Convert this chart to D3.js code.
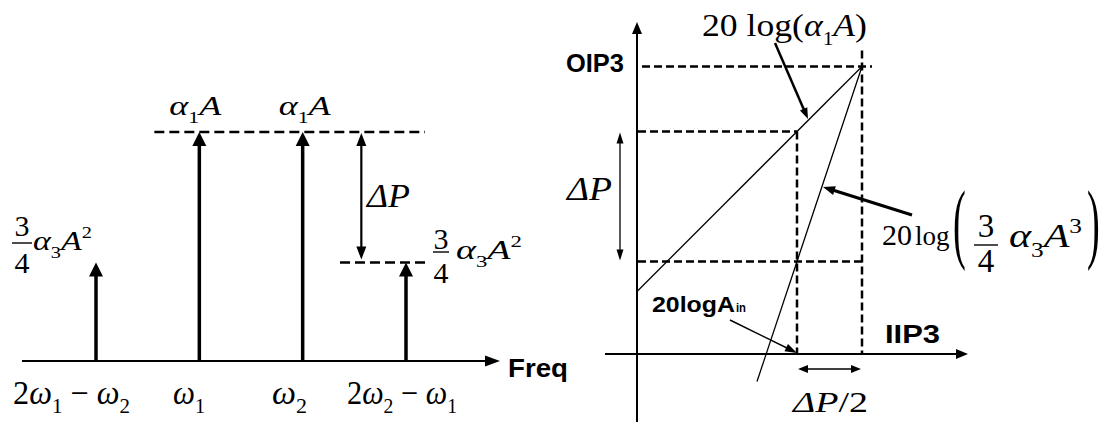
<!DOCTYPE html>
<html>
<head>
<meta charset="utf-8">
<script src="https://cdn.jsdelivr.net/npm/d3@7"></script>
<style>
  body { margin: 0; background: #fff; }
  text { white-space: pre; }
</style>
</head>
<body>
<svg id="chart" width="1108" height="424"></svg>
<script>
// ---- Two-tone spectrum (left panel) ----
const tones = ["2ω_1 − ω_2", "ω_1", "ω_2", "2ω_2 − ω_1"];
const toneLevels = [0.43, 1, 1, 0.43];          // amplitude relative to the fundamental
const toneLabelShift = [-24.5, -10.3, -13.2, -4]; // label centre offset from each tone
const toneLabelWidth = [117, 32, 35, 110];

// ---- Intercept-point plot (right panel), levels in dB ----
const gainDb = 12.5;
const iip3 = 45;
const oip3 = 57.5;
const ainDb = 32;                 // 20logA_in
const fundOutDb = 44.5;           // fundamental output at A_in
const im3OutDb = 18.5;            // third-order output at A_in
const fundLine = [[0, 12.5], [45, 57.5]];   // slope 1
const im3Line  = [[24, -5.5], [45, 57.5]];  // slope 3
const inAxisExtent = [-6.4, 66.2];
const outAxisExtent = [-13.6, 66.4];

const SERIF = "'Liberation Serif','Times New Roman',serif";
const SANS = "'Liberation Sans',Arial,sans-serif";

const svg = d3.select("#chart");
svg.append("rect").attr("width", 1108).attr("height", 424).attr("fill", "#fff");

// ---------- helpers ----------
function head(g, x, y, ang, hl, hw) {
  const bx = x - Math.cos(ang) * hl, by = y - Math.sin(ang) * hl;
  const px = -Math.sin(ang) * hw / 2, py = Math.cos(ang) * hw / 2;
  g.append("path")
    .attr("d", `M${x},${y}L${bx + px},${by + py}L${bx - px},${by - py}Z`)
    .attr("fill", "#000");
}
function arrow(g, x1, y1, x2, y2, o = {}) {
  const sw = o.sw ?? 2, hl = o.hl ?? 12, hw = o.hw ?? 10, both = o.both ?? false;
  const ang = Math.atan2(y2 - y1, x2 - x1);
  const cut = hl * 0.7;
  const ex = x2 - Math.cos(ang) * cut, ey = y2 - Math.sin(ang) * cut;
  const sx = both ? x1 + Math.cos(ang) * cut : x1, sy = both ? y1 + Math.sin(ang) * cut : y1;
  g.append("line").attr("x1", sx).attr("y1", sy).attr("x2", ex).attr("y2", ey)
    .attr("stroke", "#000").attr("stroke-width", sw);
  head(g, x2, y2, ang, hl, hw);
  if (both) head(g, x1, y1, ang + Math.PI, hl, hw);
}
function dashed(g, x1, y1, x2, y2, dash, sw) {
  g.append("line").attr("x1", x1).attr("y1", y1).attr("x2", x2).attr("y2", y2)
    .attr("stroke", "#000").attr("stroke-width", sw).attr("stroke-dasharray", dash);
}
// Math-style text: "_x" subscript, "^x" superscript, Greek and single capitals italic.
function math(g, x, y, str, size, o = {}) {
  const t = g.append("text").attr("x", x).attr("y", y)
    .attr("font-family", SERIF).attr("font-size", size).attr("fill", "#000");
  if (o.anchor) t.attr("text-anchor", o.anchor);
  const italic = /[αωΔAP]/;
  let shift = 0, i = 0;
  while (i < str.length) {
    let ch = str[i], script = null;
    if ((ch === "_" || ch === "^") && i + 1 < str.length) { script = ch; ch = str[i + 1]; i += 2; }
    else i += 1;
    const target = script === "_" ? size * 0.28 : script === "^" ? -size * 0.42 : 0;
    const ts = t.append("tspan").text(ch).attr("dy", target - shift);
    shift = target;
    if (script) ts.attr("font-size", size * (o.scriptScale || 0.6));
    if (italic.test(ch)) ts.attr("font-style", "italic");
  }
  if (o.len) t.attr("textLength", o.len).attr("lengthAdjust", o.adjust || "spacingAndGlyphs");
  return t;
}
function sans(g, x, y, str, size, len, anchor) {
  const t = g.append("text").attr("x", x).attr("y", y).text(str)
    .attr("font-family", SANS).attr("font-weight", "bold").attr("font-size", size).attr("fill", "#000");
  if (len) t.attr("textLength", len).attr("lengthAdjust", "spacingAndGlyphs");
  if (anchor) t.attr("text-anchor", anchor);
  return t;
}
function plain(g, x, y, str, size) {
  return g.append("text").attr("x", x).attr("y", y).text(str)
    .attr("font-family", SERIF).attr("font-size", size).attr("fill", "#000");
}
function fraction(g, cx, yNum, yBar, yDen, half, size) {
  plain(g, cx, yNum, "3", size).attr("text-anchor", "middle");
  g.append("line").attr("x1", cx - half).attr("x2", cx + half).attr("y1", yBar).attr("y2", yBar)
    .attr("stroke", "#000").attr("stroke-width", 1.4);
  plain(g, cx, yDen, "4", size).attr("text-anchor", "middle");
}
function paren(g, x, y, ch) {
  g.append("text").attr("transform", `translate(${x},${y}) scale(0.8,1.85)`)
    .attr("font-family", SERIF).attr("font-size", 48).text(ch);
}

// ---------- left panel ----------
const L = svg.append("g");
const fx = d3.scalePoint().domain(tones).range([96, 406]);
const fy = d3.scaleLinear().domain([0, 1]).range([361, 132]);

arrow(L, 22, fy(0), 500, fy(0), { sw: 2, hl: 15, hw: 11 });
sans(L, 508, 377, "Freq", 26, 60);

// reference levels
dashed(L, fx(tones[1]) - 45, fy(1), fx(tones[3]) + 19, fy(1), "10,5", 2.4);
dashed(L, fx(tones[3]) - 66, fy(toneLevels[3]), fx(tones[3]) + 19, fy(toneLevels[3]), "10,5", 2.4);

// tones
tones.forEach((c, i) => {
  arrow(L, fx(c), fy(0), fx(c), fy(toneLevels[i]), { sw: 3.5, hl: 14, hw: 14 });
});

// ΔP between fundamental and IM3 level
const dpx = (fx(tones[2]) + fx(tones[3])) / 2 + 7;
arrow(L, dpx, fy(1) + 1, dpx, fy(toneLevels[3]) - 3, { sw: 2.2, hl: 13, hw: 10, both: true });
math(L, 367, 207, "ΔP", 34, { len: 43 });

// tone labels under the axis
tones.forEach((c, i) => {
  math(L, fx(c) + toneLabelShift[i], 404, c, 33, { anchor: "middle", len: toneLabelWidth[i], scriptScale: 0.65 });
});

// amplitude labels
[1, 2].forEach(i => math(L, fx(tones[i]) - 30 + (i - 1) * 6, 115, "α_1A", 28, { len: 52 }));
fraction(L, 22, 236, 243, 273, 10, 30);
math(L, 33, 250, "α_3A^2", 28, { len: 59 });
fraction(L, 441, 249, 252, 283, 8, 30);
math(L, 456, 259, "α_3A^2", 28, { len: 66 });

// ---------- right panel ----------
const R = svg.append("g");
const px = d3.scaleLinear().domain([0, iip3]).range([637, 862]);
const py = d3.scaleLinear().domain([0, oip3]).range([354, 66.5]);

// axes
arrow(R, px(inAxisExtent[0]), py(0), px(inAxisExtent[1]), py(0), { sw: 2, hl: 12, hw: 10 });
arrow(R, px(0), py(outAxisExtent[0]), px(0), py(outAxisExtent[1]), { sw: 2, hl: 12, hw: 10 });
sans(R, 624, 72, "OIP3", 26, 58, "end");
sans(R, 885, 343, "IIP3", 26, 55);

// guide lines
dashed(R, px(0) + 5, py(oip3), px(iip3) + 10, py(oip3), "8,4", 2.5);
dashed(R, px(iip3), py(oip3) - 16, px(iip3), py(0), "8,4", 2.5);
dashed(R, px(0) + 1, py(fundOutDb), px(ainDb), py(fundOutDb), "8,4", 2.5);
dashed(R, px(0) + 1, py(im3OutDb), px(iip3) + 3, py(im3OutDb), "8,4", 2.5);
dashed(R, px(ainDb), py(fundOutDb), px(ainDb), py(0), "8,4", 2.5);

// fundamental and IM3 lines
const line = d3.line().x(d => px(d[0])).y(d => py(d[1]));
R.append("path").attr("d", line(fundLine)).attr("fill", "none").attr("stroke", "#000").attr("stroke-width", 1.3);
R.append("path").attr("d", line(im3Line)).attr("fill", "none").attr("stroke", "#000").attr("stroke-width", 1.3);

// ΔP and ΔP/2 markers
arrow(R, 620, py(fundOutDb) + 1, 620, py(im3OutDb) - 1, { sw: 1.3, hl: 11, hw: 7, both: true });
math(R, 567, 200, "ΔP", 34, { len: 45 });
arrow(R, px(ainDb) + 1, 369, px(iip3) - 1, 369, { sw: 1.5, hl: 10, hw: 8, both: true });
math(R, 793, 412, "ΔP/2", 30, { len: 75 });

// annotations with pointers
math(R, 702, 36, "20 log(α_1A)", 31, { len: 165 });
arrow(R, 775, 43, 808, 119, { sw: 2.5, hl: 11, hw: 8 });

plain(R, 882, 245, "20", 30);
plain(R, 915, 245, "log", 27);
paren(R, 953, 252, "(");
fraction(R, 986, 237, 245, 272, 12, 33);
math(R, 1009, 247, "α_3A^3", 34, { len: 73 });
paren(R, 1087, 252, ")");
arrow(R, 912, 215, 823, 187, { sw: 3, hl: 12, hw: 9 });

sans(R, 652, 312, "20logA", 22, 83);
sans(R, 736, 312, "in", 13, 10);
arrow(R, 730, 320, 797, 353, { sw: 1.5, hl: 12, hw: 8 });
</script>
</body>
</html>
